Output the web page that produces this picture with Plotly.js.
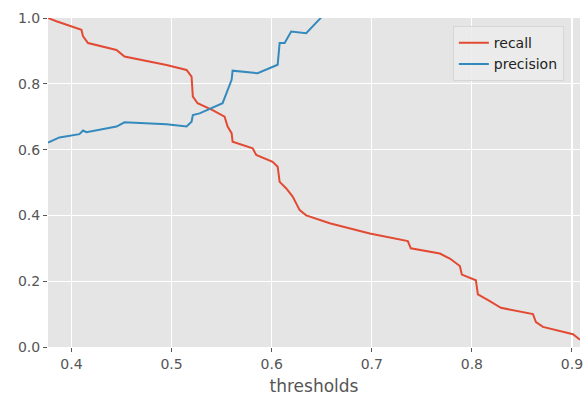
<!DOCTYPE html>
<html>
<head>
<meta charset="utf-8">
<script src="https://cdn.plot.ly/plotly-3.0.1.min.js"></script>
<style>html,body{margin:0;padding:0;background:#fff;}#chart{width:584px;height:398px;}</style>
</head>
<body>
<div id="chart"></div>
<script>
const recallThresholds = [0.3766,0.385,0.41,0.4116,0.4166,0.445,0.453,0.495,0.515,0.52,0.5213,0.526,0.541,0.553,0.556,0.56,0.561,0.581,0.5846,0.601,0.606,0.608,0.6146,0.621,0.628,0.6345,0.658,0.698,0.736,0.739,0.768,0.778,0.788,0.790,0.804,0.806,0.8175,0.829,0.861,0.864,0.871,0.901,0.908];
const recallValues = [1.0,0.99,0.964,0.944,0.924,0.903,0.883,0.857,0.842,0.822,0.761,0.741,0.72,0.70,0.67,0.65,0.624,0.604,0.584,0.563,0.548,0.502,0.482,0.457,0.416,0.40,0.376,0.345,0.322,0.30,0.284,0.269,0.246,0.22,0.203,0.16,0.14,0.119,0.10,0.076,0.061,0.039,0.022];
const precisionThresholds = [0.3766,0.388,0.408,0.4116,0.415,0.445,0.453,0.495,0.515,0.52,0.5213,0.528,0.551,0.556,0.56,0.561,0.586,0.606,0.608,0.613,0.6195,0.6345,0.649,0.653];
const precisionValues = [0.621,0.637,0.647,0.658,0.653,0.670,0.683,0.677,0.670,0.685,0.705,0.71,0.741,0.781,0.812,0.84,0.832,0.858,0.924,0.924,0.959,0.954,1.0,1.02];
const xTicks = [0.4,0.5,0.6,0.7,0.8,0.9];
const xTickLabels = ["0.4","0.5","0.6","0.7","0.8","0.9"];
const yTicks = [0.0,0.2,0.4,0.6,0.8,1.0];
const yTickLabels = ["0.0","0.2","0.4","0.6","0.8","1.0"];

const traces = [
  {x: recallThresholds, y: recallValues, name: "recall", mode: "lines", line: {color: "#E24A33", width: 2}},
  {x: precisionThresholds, y: precisionValues, name: "precision", mode: "lines", line: {color: "#348ABD", width: 2}}
];
const axisCommon = {
  showgrid: true, gridcolor: "#ffffff", gridwidth: 1.2, zeroline: false,
  showline: false, ticks: "outside", ticklen: 4, tickwidth: 1, tickcolor: "#555555",
  tickfont: {family: "DejaVu Sans", size: 14, color: "#555555"}
};
const layout = {
  width: 584, height: 398,
  margin: {l: 48, r: 4, t: 18, b: 51},
  paper_bgcolor: "#ffffff", plot_bgcolor: "#E5E5E5",
  showlegend: true,
  xaxis: Object.assign({}, axisCommon, {
    range: [0.3766, 0.908], tickvals: xTicks, ticktext: xTickLabels,
    title: {text: "thresholds", font: {family: "DejaVu Sans", size: 17, color: "#555555"}, standoff: 9}
  }),
  yaxis: Object.assign({}, axisCommon, {
    range: [0, 1], tickvals: yTicks, ticktext: yTickLabels
  }),
  legend: {
    x: 0.761, y: 0.975, xanchor: "left", yanchor: "top",
    bgcolor: "rgba(236,236,236,0.85)", bordercolor: "#d6d6d6", borderwidth: 1,
    font: {family: "DejaVu Sans", size: 14, color: "#222222"},
    itemwidth: 30
  }
};
Plotly.newPlot("chart", traces, layout, {displayModeBar: false, staticPlot: true});
</script>
</body>
</html>
